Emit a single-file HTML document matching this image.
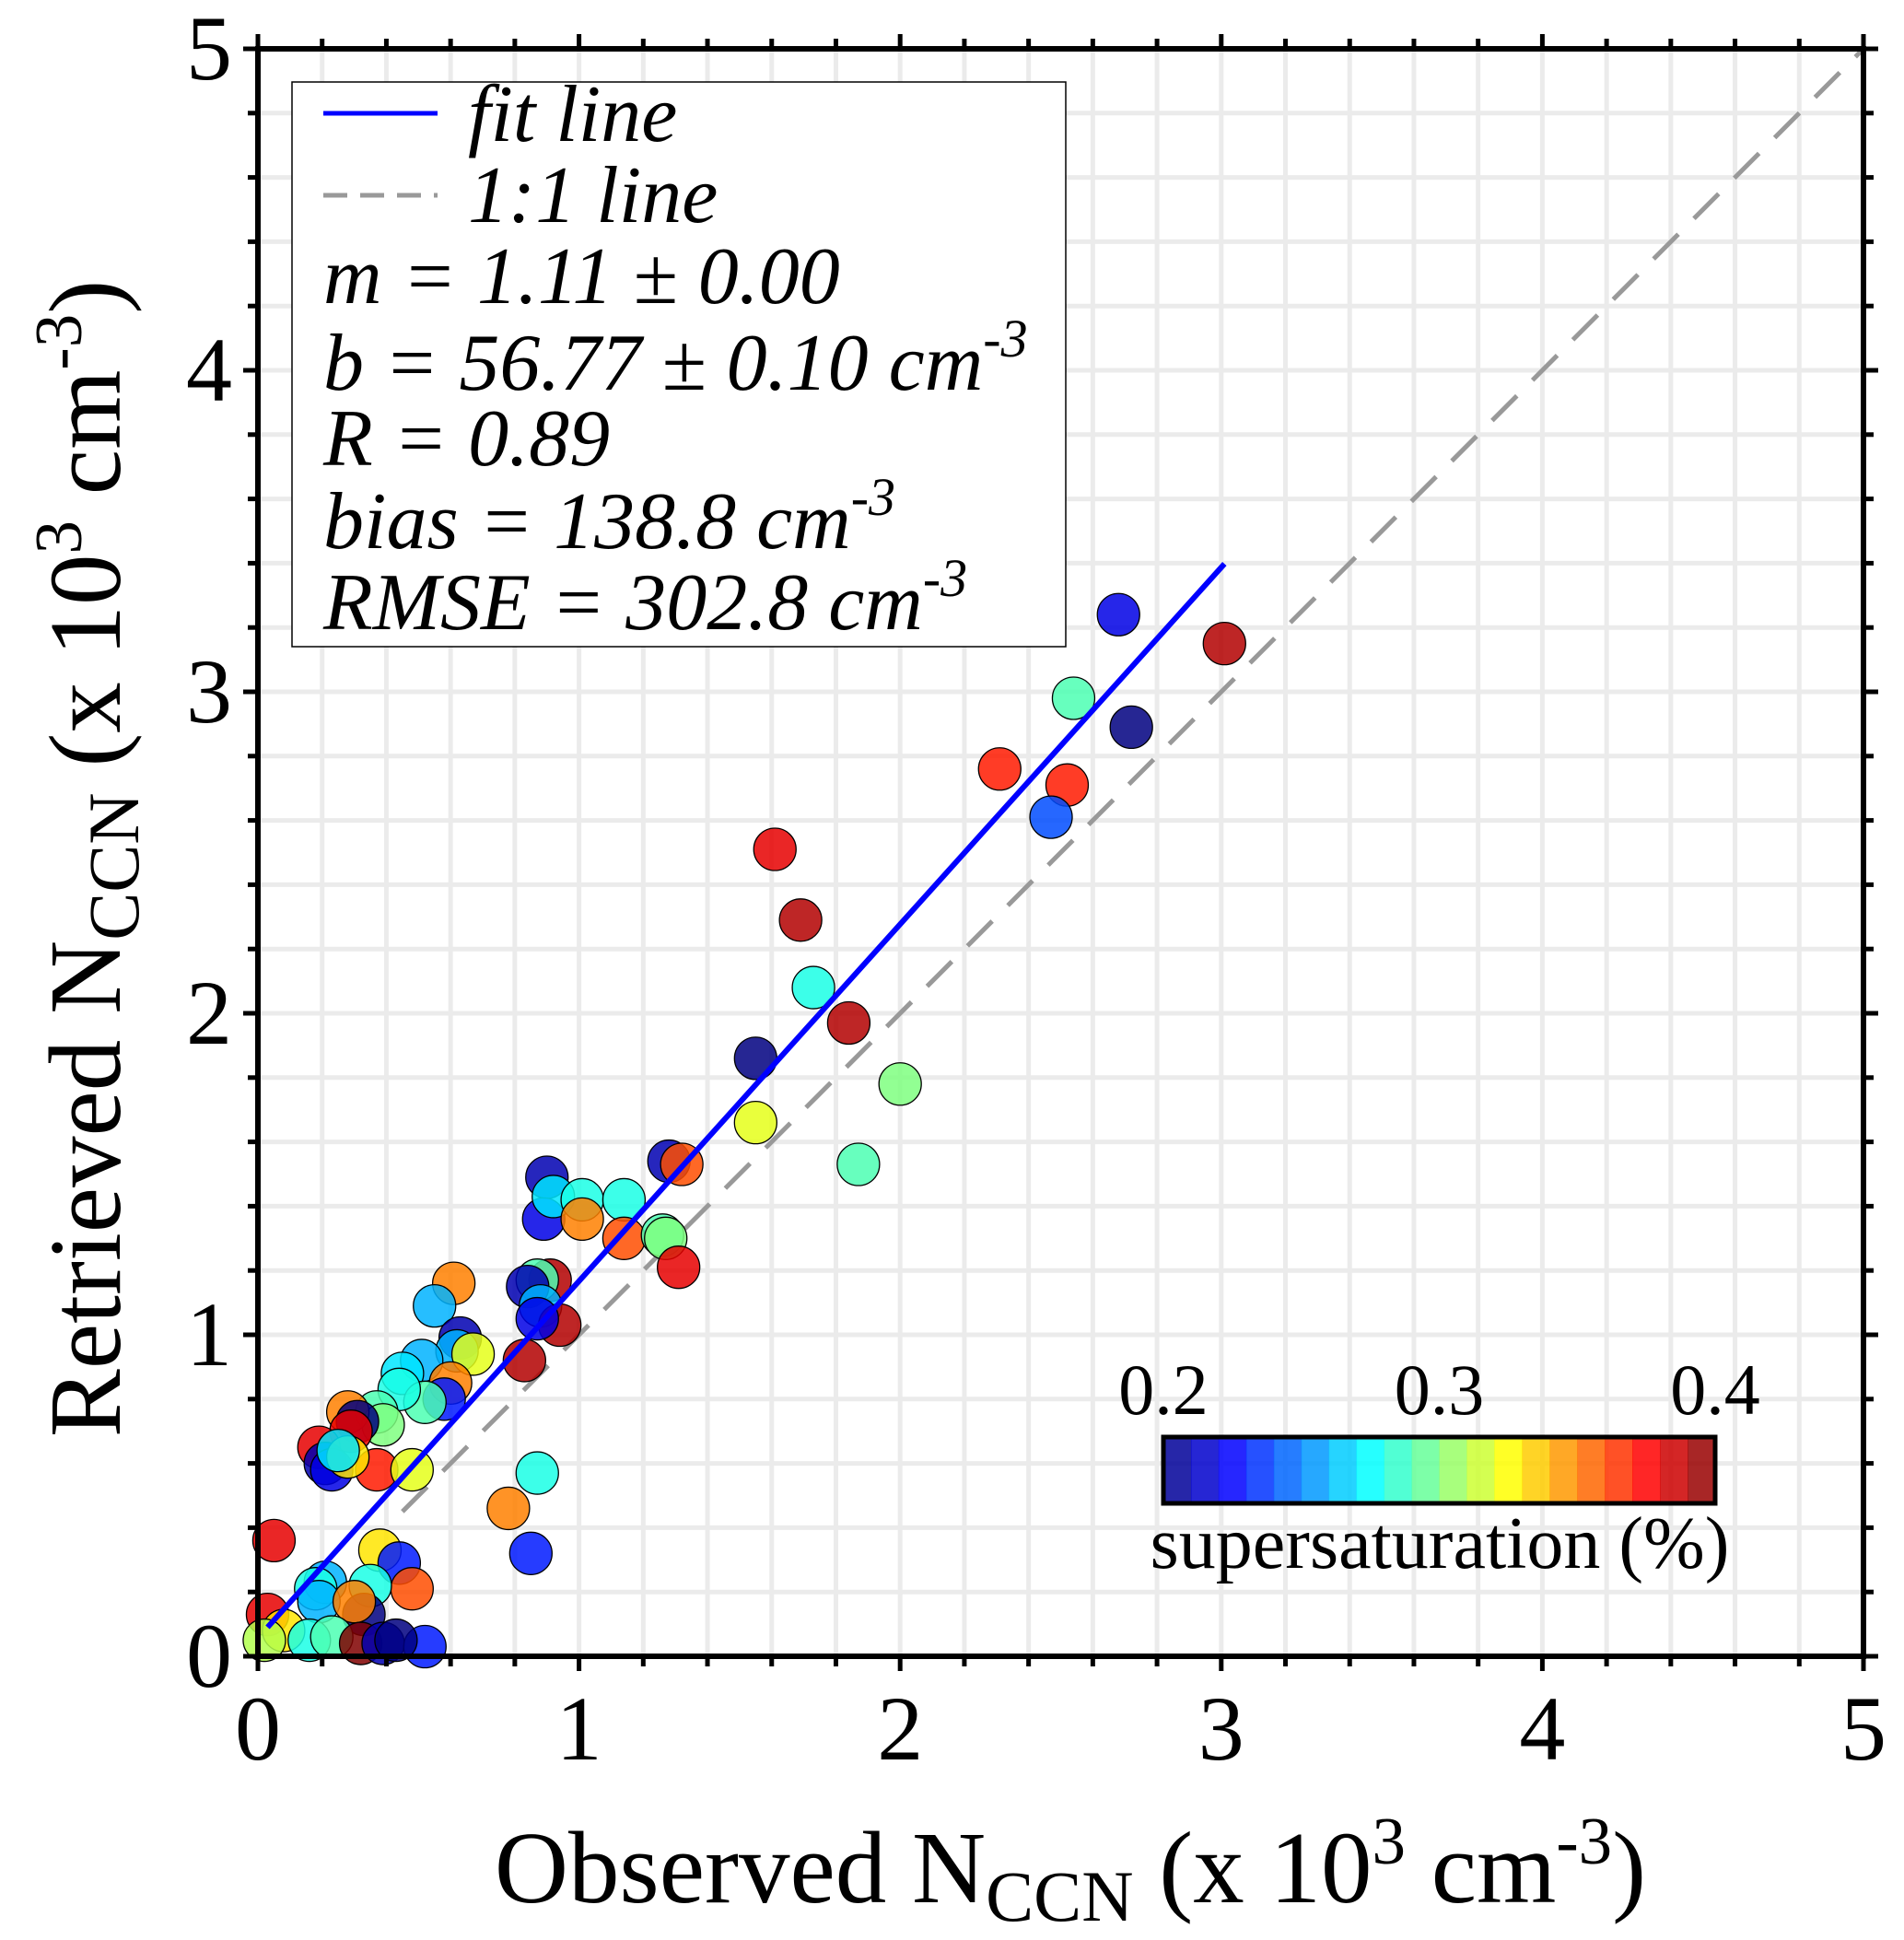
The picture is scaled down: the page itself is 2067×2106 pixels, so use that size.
<!DOCTYPE html>
<html><head><meta charset="utf-8"><style>
body{margin:0;background:#fff}
svg{display:block}
text{font-family:"Liberation Serif",serif;fill:#000}
</style></head><body>
<svg id="chart" width="2067" height="2106" viewBox="0 0 2067 2106" xmlns="http://www.w3.org/2000/svg">
<g id="grid"></g>
<g id="lines"></g>
<g id="points"></g>
<g id="axes"></g>
<g>
<rect x="317" y="89" width="840" height="613" fill="#fff" stroke="#000" stroke-width="1.5"/>
<line x1="351" y1="123" x2="475" y2="123" stroke="#0000ff" stroke-width="5"/>
<line x1="351" y1="212" x2="475" y2="212" stroke="#999" stroke-width="5" stroke-dasharray="26,14"/>
<g font-style="italic" font-size="88">
<text x="508" y="153">fit line</text>
<text x="508" y="241">1:1 line</text>
<text x="351" y="329">m = 1.11 ± 0.00</text>
<text x="351" y="423">b = 56.77 ± 0.10 cm<tspan dy="-36" font-size="58">-3</tspan></text>
<text x="351" y="505">R = 0.89</text>
<text x="351" y="595">bias = 138.8 cm<tspan dy="-36" font-size="58">-3</tspan></text>
<text x="351" y="683">RMSE = 302.8 cm<tspan dy="-36" font-size="58">-3</tspan></text>
</g></g>
<g id="cbar"></g>
<text x="1162" y="2065" font-size="111" text-anchor="middle">Observed N<tspan dy="20" font-size="78">CCN</tspan><tspan dy="-20"> (x 10</tspan><tspan dy="-42" font-size="73">3</tspan><tspan dy="42"> cm</tspan><tspan dy="-42" font-size="73">-3</tspan><tspan dy="42">)</tspan></text>
<text transform="translate(130,932) rotate(-90)" font-size="111" text-anchor="middle">Retrieved N<tspan dy="20" font-size="78">CCN</tspan><tspan dy="-20"> (x 10</tspan><tspan dy="-42" font-size="73">3</tspan><tspan dy="42"> cm</tspan><tspan dy="-42" font-size="73">-3</tspan><tspan dy="42">)</tspan></text>
</svg>
<script>
const obsX=[2.68,3.01,2.54,2.72,2.31,2.52,2.47,1.61,1.69,1.73,1.84,1.55,2.00,1.55,1.87,1.28,1.32,0.90,0.89,0.92,1.01,1.01,1.14,1.14,1.26,1.27,1.31,0.91,0.87,0.84,0.88,0.94,0.87,0.83,0.61,0.55,0.63,0.62,0.67,0.51,0.45,0.60,0.58,0.52,0.44,0.37,0.39,0.28,0.31,0.29,0.37,0.48,0.19,0.21,0.23,0.28,0.25,0.78,0.87,0.85,0.05,0.38,0.44,0.48,0.35,0.21,0.18,0.19,0.33,0.30,0.03,0.08,0.02,0.16,0.23,0.32,0.39,0.52,0.43];
const retY=[3.24,3.15,2.98,2.89,2.76,2.71,2.61,2.51,2.29,2.08,1.97,1.86,1.78,1.66,1.53,1.54,1.53,1.49,1.36,1.43,1.42,1.36,1.42,1.30,1.31,1.30,1.21,1.17,1.17,1.15,1.09,1.03,1.05,0.92,1.16,1.09,0.99,0.95,0.94,0.92,0.88,0.85,0.80,0.79,0.83,0.76,0.72,0.76,0.73,0.70,0.58,0.58,0.65,0.60,0.58,0.62,0.64,0.46,0.57,0.32,0.36,0.33,0.29,0.21,0.22,0.23,0.21,0.17,0.13,0.17,0.13,0.08,0.05,0.05,0.06,0.04,0.04,0.03,0.05];
const ss=[0.22,0.39,0.29,0.20,0.37,0.37,0.24,0.38,0.39,0.28,0.39,0.20,0.30,0.32,0.29,0.21,0.36,0.21,0.22,0.27,0.28,0.35,0.28,0.36,0.29,0.30,0.38,0.39,0.29,0.21,0.26,0.39,0.22,0.39,0.35,0.26,0.21,0.26,0.32,0.26,0.27,0.35,0.23,0.29,0.28,0.29,0.30,0.35,0.20,0.38,0.37,0.32,0.38,0.21,0.22,0.33,0.27,0.35,0.28,0.23,0.38,0.33,0.23,0.36,0.28,0.26,0.28,0.26,0.20,0.35,0.38,0.33,0.31,0.28,0.29,0.40,0.21,0.23,0.20];
const tickLabels=["0","1","2","3","4","5"];
const cbarTicks=["0.2","0.3","0.4"];
const fitM=1.11, fitB=0.057, fitX0=0.03, fitX1=3.01;

const L=280,R=2023,T=53,B=1798;
const sx=v=>L+(R-L)*v/5, sy=v=>B-(B-T)*v/5;
const NS="http://www.w3.org/2000/svg";
function mk(p,t,a){const e=document.createElementNS(NS,t);for(const k in a)e.setAttribute(k,a[k]);p.appendChild(e);return e;}
function jet(t){t=Math.max(0,Math.min(1,t));const f=x=>Math.round(255*Math.max(0,Math.min(1,1.5-Math.abs(4*t-x))));return `rgb(${f(3)},${f(2)},${f(1)})`;}
const grid=document.getElementById('grid'),axes=document.getElementById('axes'),lines=document.getElementById('lines'),pts=document.getElementById('points'),cb=document.getElementById('cbar');
for(let i=1;i<25;i++){const v=i*0.2;
 let g=mk(grid,'line',{x1:sx(v),x2:sx(v),y1:T,y2:B,stroke:'#ebebeb','stroke-width':5});
 
 g=mk(grid,'line',{x1:L,x2:R,y1:sy(v),y2:sy(v),stroke:'#ebebeb','stroke-width':5});
 }
let d=mk(lines,'line',{x1:sx(0.45),y1:sy(0.45),x2:sx(5),y2:sy(5),stroke:'#999','stroke-width':5,'stroke-dasharray':'38,24'});

obsX.forEach((x,i)=>{const c=mk(pts,'circle',{cx:sx(x),cy:sy(retY[i]),r:23,fill:jet((ss[i]-0.2)/0.2),'fill-opacity':0.85,stroke:'#000','stroke-width':1.3});
 });
let f=mk(pts,'line',{x1:sx(fitX0),y1:sy(fitM*fitX0+fitB),x2:sx(fitX1),y2:sy(fitM*fitX1+fitB),stroke:'#0000ff','stroke-width':6});

let fr=mk(axes,'rect',{x:L,y:T,width:R-L,height:B-T,fill:'none',stroke:'#000','stroke-width':6});

for(let i=0;i<=25;i++){const v=i*0.2,len=(i%5==0)?16:11;
 [[sx(v),B,sx(v),B+len],[sx(v),T,sx(v),T-len],[L,sy(v),L-len,sy(v)],[R,sy(v),R+len,sy(v)]].forEach(a=>{
 const t=mk(axes,'line',{x1:a[0],y1:a[1],x2:a[2],y2:a[3],stroke:'#000','stroke-width':5});
 });}
tickLabels.forEach((s,i)=>{
 let t=mk(axes,'text',{x:sx(i),y:1910,'font-size':100,'text-anchor':'middle'});t.textContent=s;
 
 t=mk(axes,'text',{x:252,y:sy(i)+33,'font-size':100,'text-anchor':'end'});t.textContent=s;
 });
const cx0=1263,cx1=1862,cy0=1560,cy1=1632,n=20;
for(let i=0;i<n;i++){const r=mk(cb,'rect',{x:cx0+(cx1-cx0)*i/n,y:cy0,width:(cx1-cx0)/n+0.5,height:cy1-cy0,fill:jet((i+0.5)/n),'fill-opacity':0.85});
 }
const cf=mk(cb,'rect',{x:cx0,y:cy0,width:cx1-cx0,height:cy1-cy0,fill:'none',stroke:'#000','stroke-width':5});

cbarTicks.forEach((s,i)=>{const t=mk(cb,'text',{x:cx0+(cx1-cx0)*i/2,y:1535,'font-size':78,'text-anchor':'middle'});t.textContent=s;
 });
const ct=mk(cb,'text',{x:1563,y:1702,'font-size':80,'text-anchor':'middle'});ct.textContent='supersaturation (%)';

</script>
</body></html>
